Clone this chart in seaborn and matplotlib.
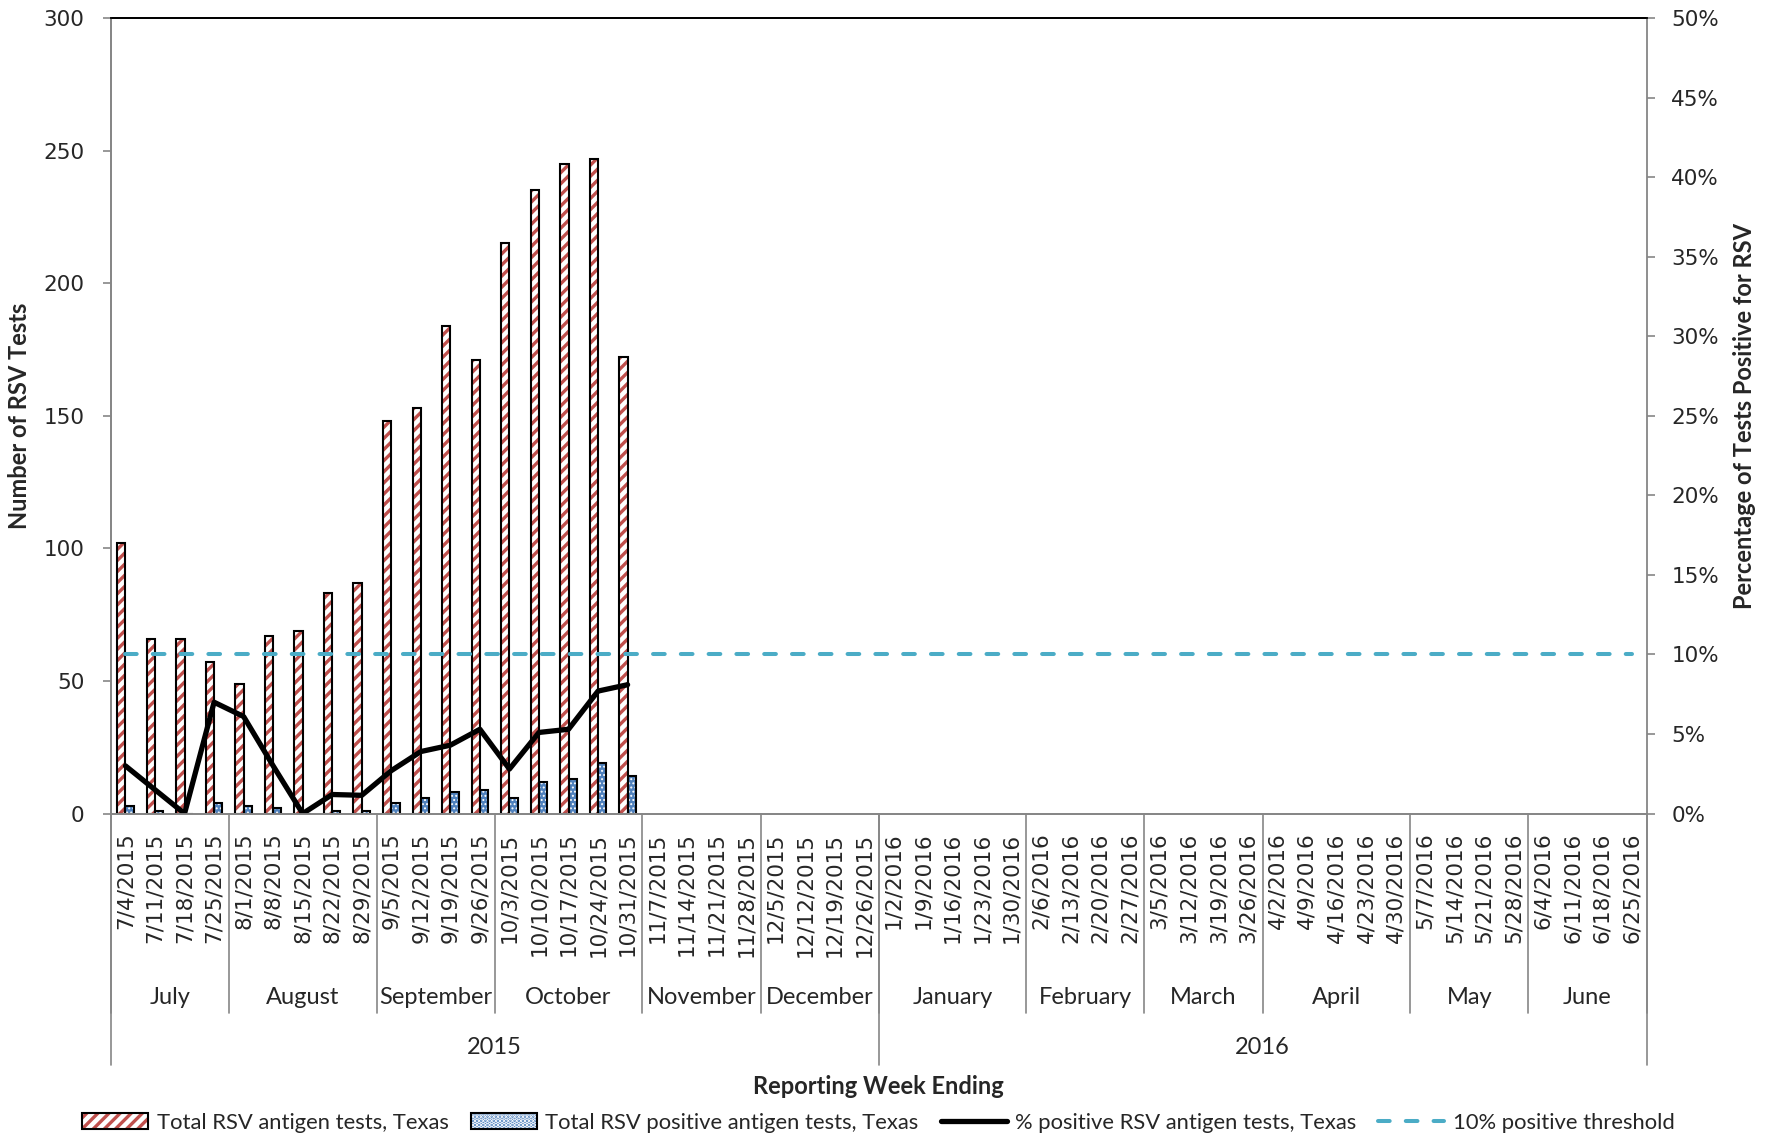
import numpy as np
import pandas as pd
import seaborn as sns
import matplotlib.pyplot as plt
from matplotlib.patches import Patch, Rectangle
from matplotlib.lines import Line2D

# week ending dates, July 2015 - June 2016
weeks = ['7/4/2015', '7/11/2015', '7/18/2015', '7/25/2015',
         '8/1/2015', '8/8/2015', '8/15/2015', '8/22/2015', '8/29/2015',
         '9/5/2015', '9/12/2015', '9/19/2015', '9/26/2015',
         '10/3/2015', '10/10/2015', '10/17/2015', '10/24/2015', '10/31/2015',
         '11/7/2015', '11/14/2015', '11/21/2015', '11/28/2015',
         '12/5/2015', '12/12/2015', '12/19/2015', '12/26/2015',
         '1/2/2016', '1/9/2016', '1/16/2016', '1/23/2016', '1/30/2016',
         '2/6/2016', '2/13/2016', '2/20/2016', '2/27/2016',
         '3/5/2016', '3/12/2016', '3/19/2016', '3/26/2016',
         '4/2/2016', '4/9/2016', '4/16/2016', '4/23/2016', '4/30/2016',
         '5/7/2016', '5/14/2016', '5/21/2016', '5/28/2016',
         '6/4/2016', '6/11/2016', '6/18/2016', '6/25/2016']
months = ['July', 'August', 'September', 'October', 'November', 'December',
          'January', 'February', 'March', 'April', 'May', 'June']
month_weeks = [4, 5, 4, 5, 4, 4, 5, 4, 4, 5, 4, 4]
years = ['2015', '2016']
year_weeks = [26, 26]

total_tests = [102, 66, 66, 57, 49, 67, 69, 83, 87, 148, 153, 184, 171, 215, 235, 245, 247, 172]
positive_tests = [3, 1, 0, 4, 3, 2, 0, 1, 1, 4, 6, 8, 9, 6, 12, 13, 19, 14]
pct_positive = [3.0, 1.5, 0.0, 7.0, 6.1, 3.0, 0.0, 1.2, 1.15, 2.7, 3.9, 4.3, 5.3, 2.8, 5.1, 5.3, 7.7, 8.1]
threshold = [10] * len(weeks)

series_names = ['Total RSV antigen tests, Texas', 'Total RSV positive antigen tests, Texas']
line_name = '% positive RSV antigen tests, Texas'
thr_name = '10% positive threshold'

RED = '#C0504D'
BLUE = '#4F81BD'
CYAN = '#4BACC6'
GRAY = '#868686'
DASH = (2.9, 4.0)

sns.set_style('white')
plt.rcParams['font.family'] = ['DejaVu Sans']
plt.rcParams['hatch.linewidth'] = 2.4


def style_patch(p, face, hcol, hatch, hlw):
    p.set_facecolor(face)
    p.set_edgecolor(hcol)
    p.set_hatch(hatch)
    p.set_linewidth(0)
    if hasattr(p, 'set_hatch_linewidth'):
        p.set_hatch_linewidth(hlw)
    return p


W, H = 1772, 1137
fig = plt.figure(figsize=(W / 100, H / 100), dpi=100)
left, right, top, bottom = 110.7, 1646.6, 18, 813.6
fig.subplots_adjust(left=left / W, right=right / W, top=1 - top / H, bottom=1 - bottom / H)
ax = fig.add_subplot(111)
ax_h = bottom - top

df = pd.DataFrame({
    'week': weeks[:len(total_tests)] * 2,
    'series': [series_names[0]] * len(total_tests) + [series_names[1]] * len(positive_tests),
    'value': total_tests + positive_tests,
})
sns.barplot(data=df, x='week', y='value', hue='series', order=weeks, hue_order=series_names,
            width=0.56, dodge=True, errorbar=None, legend=False, ax=ax,
            palette=['white', BLUE])

styles = [('white', RED, '///', 2.4), (BLUE, 'white', '....', 0.9)]

# hatch fill, then a black outline over each bar
for cont, st in zip(ax.containers, styles):
    for p in cont.patches:
        style_patch(p, *st)
        ax.add_patch(Rectangle(p.get_xy(), p.get_width(), p.get_height(), fill=False,
                               edgecolor='black', lw=1.5, zorder=p.get_zorder() + 0.1))

ax2 = ax.twinx()
sns.lineplot(x=np.arange(len(weeks)), y=threshold, ax=ax2, color=CYAN, lw=2.9)
ax2.lines[-1].set_dashes(DASH)
ax2.lines[-1].set_dash_capstyle('round')
sns.lineplot(x=np.arange(len(pct_positive)), y=pct_positive, ax=ax2, color='black', lw=3.8)

ax.set_ylim(0, 300)
ax.set_yticks(range(0, 301, 50))
ax2.set_ylim(0, 50)
ax2.set_yticks(range(0, 51, 5))
ax2.set_yticklabels([f'{v}%' for v in range(0, 51, 5)])
ax.set_xlim(-0.5, len(weeks) - 0.5)
ax.set_xlabel('')
ax.set_ylabel('')
ax2.set_ylabel('')

for a in (ax, ax2):
    for s in ('left', 'right', 'bottom'):
        a.spines[s].set_color(GRAY)
        a.spines[s].set_linewidth(1.3)
    a.spines['top'].set_color('black')
    a.spines['top'].set_linewidth(1.3)
    a.tick_params(axis='y', direction='out', length=5.8, width=1.2, color=GRAY,
                  labelsize=15.5, pad=13)
ax.spines['right'].set_visible(False)
ax2.tick_params(axis='y', pad=12)

# category axis: dividers as long major ticks, dates as minor labels
ax.set_xticks(np.arange(len(weeks) + 1) - 0.5, labels=[''] * (len(weeks) + 1))
ax.set_xticks(np.arange(len(weeks)), labels=weeks, minor=True, rotation=90, fontsize=15.5)
ax.tick_params(axis='x', which='major', direction='out', length=148 * 0.72, width=1.2, color=GRAY)
ax.tick_params(axis='x', which='minor', length=0, pad=19 * 0.72)

tr = ax.get_xaxis_transform()
edges = np.concatenate([[0], np.cumsum(month_weeks)]) - 0.5
for e in edges:
    ax.plot([e, e], [0, -(1012.7 - bottom) / ax_h], transform=tr, color=GRAY, lw=1.2, clip_on=False)
for name, a0, a1 in zip(months, edges[:-1], edges[1:]):
    ax.text((a0 + a1) / 2, -(997 - bottom) / ax_h, name, transform=tr, ha='center', va='center',
            fontsize=17, family=['Lato', 'DejaVu Sans'])
yedges = np.concatenate([[0], np.cumsum(year_weeks)]) - 0.5
for e in yedges:
    ax.plot([e, e], [0, -(1065 - bottom) / ax_h], transform=tr, color=GRAY, lw=1.2, clip_on=False)
for name, a0, a1 in zip(years, yedges[:-1], yedges[1:]):
    ax.text((a0 + a1) / 2, -(1048 - bottom) / ax_h, name, transform=tr, ha='center', va='center',
            fontsize=17, family=['Lato', 'DejaVu Sans'])

cx = (left + right) / 2 / W
cy = 1 - (top + bottom) / 2 / H
fig.text(cx, 1 - 1087 / H, 'Reporting Week Ending', ha='center', va='center', fontsize=17,
         fontweight='bold', family=['Lato', 'DejaVu Sans'])
fig.text(20 / W, cy, 'Number of RSV Tests', rotation=90, ha='center', va='center', fontsize=17,
         fontweight='bold', family=['Lato', 'DejaVu Sans'])
fig.text(1744 / W, cy, 'Percentage of Tests Positive for RSV', rotation=90, ha='center', va='center',
         fontsize=17, fontweight='bold', family=['Lato', 'DejaVu Sans'])

handles = [
    (style_patch(Patch(), *styles[0]), Patch(fill=False, edgecolor='black', lw=1.5)),
    (style_patch(Patch(), *styles[1]), Patch(fill=False, edgecolor='black', lw=1.5)),
    Line2D([], [], color='black', lw=3.8),
    Line2D([], [], color=CYAN, lw=2.9, dashes=DASH, dash_capstyle='round'),
]
fig.legend(handles, series_names + [line_name, thr_name], loc='center', ncol=4,
           bbox_to_anchor=(cx, 1 - 1122.7 / H), frameon=False,
           prop={'family': ['Lato', 'DejaVu Sans'], 'size': 15.8},
           handlelength=3.0, handleheight=0.75, handletextpad=0.4, columnspacing=1.0,
           borderaxespad=0, borderpad=0)

fig.savefig('out.png', dpi=100)
